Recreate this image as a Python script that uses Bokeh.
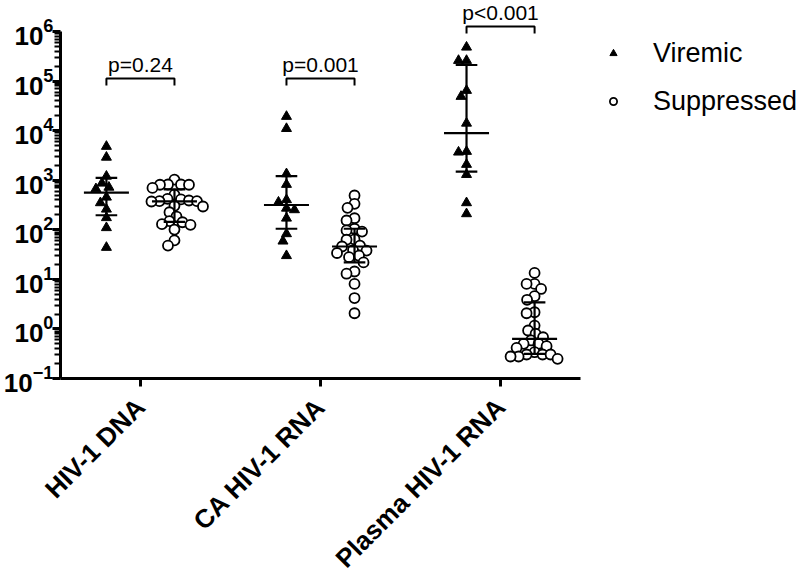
import math
import numpy as np
from bokeh.plotting import figure
from bokeh.models import (ColumnDataSource, FixedTicker, Label, Legend,
                          LegendItem, Range1d)
from bokeh.embed import file_html
from bokeh.resources import INLINE

# ---------------- data ----------------
categories = ["HIV-1 DNA", "CA HIV-1 RNA", "Plasma HIV-1 RNA"]
groups = ["Viremic", "Suppressed"]

viremic_dna = [4800, 2900, 1200, 870, 670, 720, 454, 350, 260, 175, 110, 44]
viremic_ca = [19300, 11000, 1345, 820, 403, 360, 272, 253, 171, 83, 59, 30]
viremic_plasma = [482000, 260000, 260000, 64600, 48900, 14100, 3800, 3680,
                  2080, 1300, 350, 210]

suppressed_dna = [1030, 820, 820, 810, 810, 700, 510, 420, 410, 390, 378, 378,
                  372, 305, 295, 226, 185, 149, 142, 130, 126, 101, 61, 48]
suppressed_ca = [492, 334, 277, 171, 154, 105, 97, 92, 64, 63, 48, 46, 39, 38,
                 34, 30, 28, 22, 14.4, 13, 8.1, 4.2, 2.07]
suppressed_plasma = [13.5, 8.1, 8.1, 6.4, 4.57, 3.87, 2.17, 2.07, 1.17, 0.93,
                     0.80, 0.68, 0.585, 0.50, 0.50, 0.448, 0.416, 0.339, 0.305,
                     0.305, 0.305, 0.278, 0.278, 0.249]

p_values = ["p=0.24", "p=0.001", "p<0.001"]
y_exponents = [-1, 0, 1, 2, 3, 4, 5, 6]

# ---------------- layout ----------------
LEFT, TOP_GAP = 57, 31            # frame left edge, px from top to 10^6
AX_W, AX_H = 520, 347             # drawn axes extent (categories / 7 decades)
CANVAS_W, CANVAS_H = 800, 575
X0, X_END = -0.444, 2.444
Y0, Y_END = 10.0 ** y_exponents[0], 10.0 ** y_exponents[-1]
PPX = AX_W / (X_END - X0)                                 # px per category unit
PPD = AX_H / (math.log10(Y_END) - math.log10(Y0))        # px per decade
FRAME_W = CANVAS_W - LEFT
FRAME_H = AX_H + TOP_GAP
X1 = X0 + FRAME_W / PPX
Y1 = 10 ** (math.log10(Y_END) + TOP_GAP / PPD)
GROUP_OFF = 0.189
FONT = "Liberation Sans"


def swarm(vals, d=8.0, step=0.5):
    """Simple beeswarm: offsets (in category units) avoiding overlaps."""
    y = np.log10(np.asarray(vals, dtype=float)) * PPD
    order = np.argsort(-y, kind="stable")
    xs = np.zeros(len(y))
    placed = []
    for i in order:
        k = 0
        found = None
        while found is None:
            cands = (0.0,) if k == 0 else (-k * step, k * step)
            for off in cands:
                if all((off - px) ** 2 + (y[i] - py) ** 2 >= d * d for px, py in placed):
                    found = off
                    break
            k += 1
        xs[i] = found
        placed.append((found, y[i]))
    return xs / PPX


p = figure(frame_width=FRAME_W, frame_height=FRAME_H,
           x_range=Range1d(X0, X1), y_range=Range1d(Y0, Y1),
           y_axis_type="log", output_backend="svg", toolbar_location=None,
           min_border_left=LEFT, min_border_top=0, min_border_right=0,
           min_border_bottom=CANVAS_H - FRAME_H)
p.outline_line_color = None
p.grid.visible = False
p.background_fill_color = "white"

viremic_sets = [viremic_dna, viremic_ca, viremic_plasma]
suppressed_sets = [suppressed_dna, suppressed_ca, suppressed_plasma]

vx, vy, sx, sy = [], [], [], []
seg = dict(x0=[], x1=[], y0=[], y1=[])
MED_HW, CAP_HW = 0.125, 0.06


def add_summary(center, vals):
    q1, med, q3 = np.percentile(vals, [25, 50, 75], method="weibull")
    for a, b, c, d in [(center, center, q1, q3),
                       (center - MED_HW, center + MED_HW, med, med),
                       (center - CAP_HW, center + CAP_HW, q1, q1),
                       (center - CAP_HW, center + CAP_HW, q3, q3)]:
        seg["x0"].append(a); seg["x1"].append(b)
        seg["y0"].append(c); seg["y1"].append(d)


for i, (v, s) in enumerate(zip(viremic_sets, suppressed_sets)):
    cv = i - GROUP_OFF
    cs = i + GROUP_OFF
    vx.extend(cv + swarm(v)); vy.extend(v)
    sx.extend(cs + swarm(s)); sy.extend(s)
    add_summary(cv, v)
    add_summary(cs, s)

r_v = p.scatter(vx, vy, marker="triangle", size=10, color="black")
r_s = p.scatter(sx, sy, marker="circle", size=10, fill_color="white",
                line_color="black", line_width=1.8)
p.segment(x0="x0", x1="x1", y0="y0", y1="y1", source=ColumnDataSource(seg),
          line_color="black", line_width=2.2)

# significance brackets (heights in px relative to the 10^6 line)
bracket_px = [-47, -47, 5]
tick_f = 10 ** (7 / PPD)
bx, by_ = [], []
for i, (lab, bp) in enumerate(zip(p_values, bracket_px)):
    level = 10 ** (math.log10(Y_END) + bp / PPD)
    a, b = i - GROUP_OFF, i + GROUP_OFF
    bx.append([a, a, b, b])
    by_.append([level / tick_f, level, level, level / tick_f])
    p.add_layout(Label(x=i, y=level, text=lab, text_align="center",
                       text_baseline="bottom", y_offset=3,
                       text_font=FONT, text_font_size="21px",
                       text_color="black"))
p.multi_line(bx, by_, line_color="black", line_width=2)

# axes
xa = p.xaxis[0]
xa.ticker = FixedTicker(ticks=[0, 1, 2], minor_ticks=[])
xa.bounds = (X0, X_END)
xa.major_label_overrides = {i: c for i, c in enumerate(categories)}
xa.major_label_orientation = math.pi / 4
xa.major_label_text_font = FONT
xa.major_label_text_font_style = "bold"
xa.major_label_text_font_size = "26px"
xa.major_label_text_color = "black"
xa.axis_line_width = 3
xa.major_tick_line_width = 3
xa.major_tick_out = 8
xa.major_tick_in = 0
xa.major_label_standoff = 16

ya = p.yaxis[0]
ya.ticker = FixedTicker(
    ticks=[10.0 ** e for e in y_exponents],
    minor_ticks=[m * 10.0 ** e for e in y_exponents[:-1] for m in range(2, 10)])
ya.bounds = (Y0, Y_END)
ya.major_label_text_font = FONT
ya.major_label_text_font_style = "bold"
ya.major_label_text_font_size = "26px"
ya.major_label_text_color = "black"
ya.axis_line_width = 3
ya.major_tick_line_width = 3
ya.minor_tick_line_width = 2
ya.minor_tick_line_color = "black"
ya.major_tick_out = 8
ya.major_tick_in = 0
ya.minor_tick_out = 6
ya.minor_tick_in = 0
ya.major_label_standoff = -1

legend = Legend(items=[LegendItem(label=groups[0], renderers=[r_v]),
                       LegendItem(label=groups[1], renderers=[r_s])],
                location=(544, 257), glyph_width=18, glyph_height=40,
                label_height=40, spacing=8, padding=0, margin=0,
                label_standoff=31, label_text_font=FONT,
                label_text_font_size="27px", label_text_color="black",
                border_line_color=None, background_fill_alpha=0)
p.add_layout(legend, "center")

open("out.html", "w").write(file_html(p, INLINE))
